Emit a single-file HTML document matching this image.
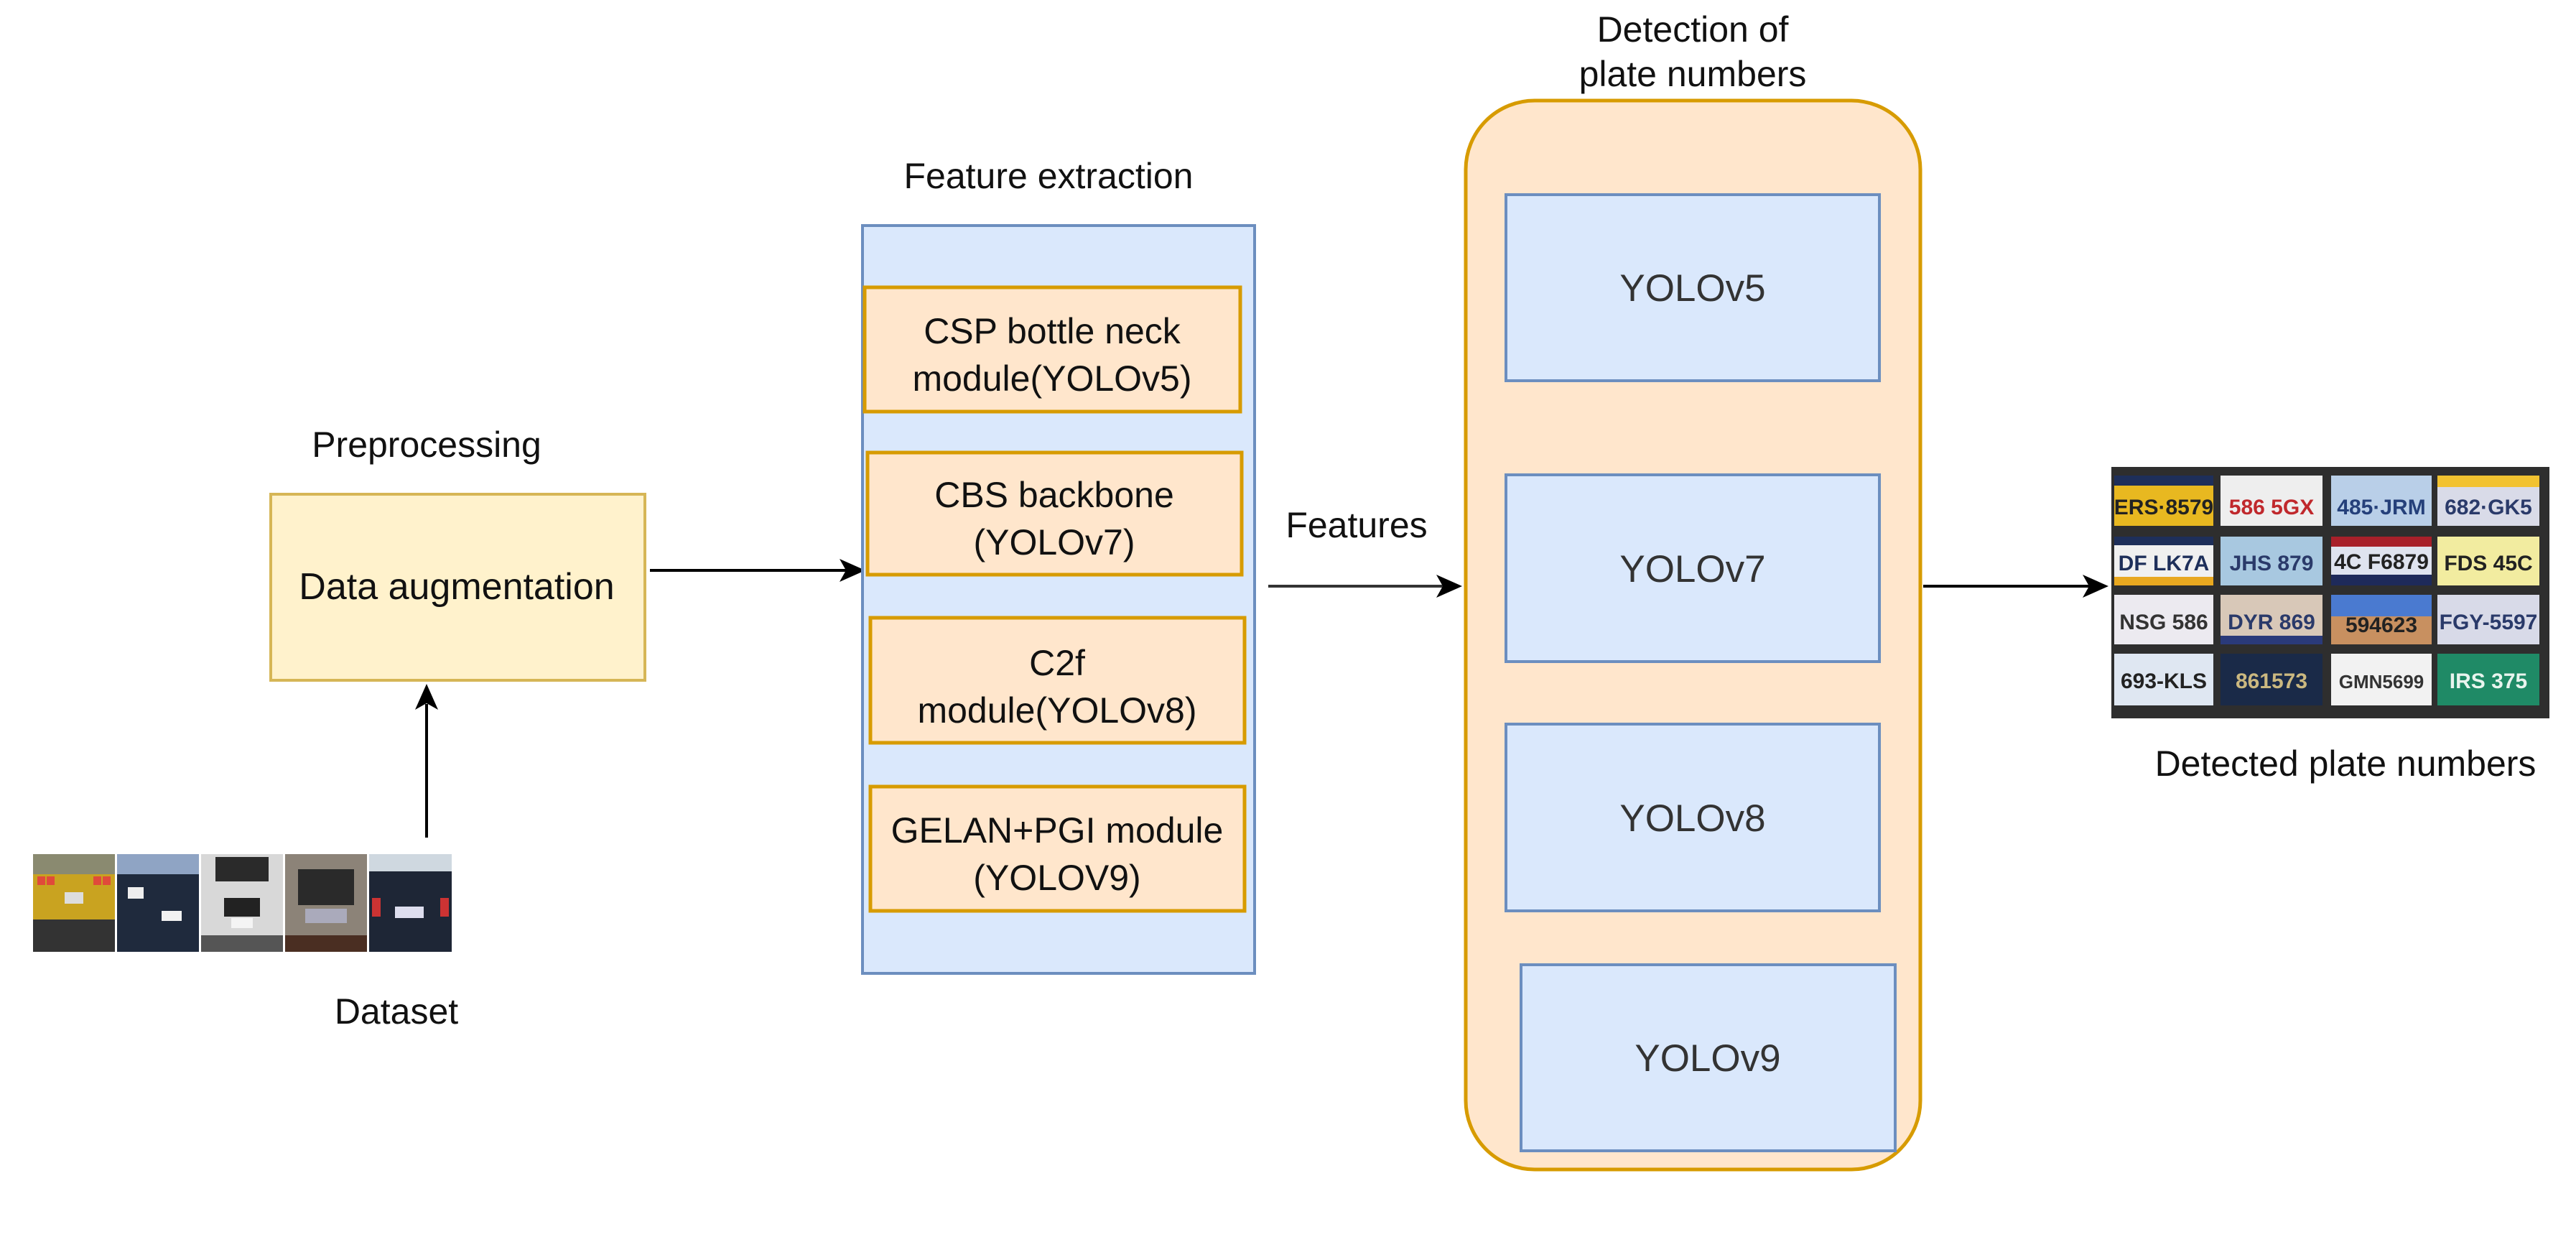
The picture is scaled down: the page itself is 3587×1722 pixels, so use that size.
<!DOCTYPE html>
<html><head><meta charset="utf-8"><style>
html,body{margin:0;padding:0;background:#fff;}
svg{display:block;}
text{font-family:"Liberation Sans",Arial,sans-serif;}
</style></head><body>
<svg width="3587" height="1722" viewBox="0 0 3587 1722" xmlns="http://www.w3.org/2000/svg">

<!-- Preprocessing -->
<text x="594" y="636" font-size="50" text-anchor="middle" fill="#111">Preprocessing</text>
<rect x="377" y="688" width="521" height="259" fill="#fff2cc" stroke="#d6b656" stroke-width="4"/>
<text x="636" y="834" font-size="52" text-anchor="middle" fill="#111">Data augmentation</text>

<!-- up arrow -->
<line x1="594" y1="1166" x2="594" y2="980" stroke="#000" stroke-width="4"/>
<polygon points="594,952 578,988 594,979 610,988" fill="#000"/>

<!-- cars -->
<g>
<rect x="46" y="1189" width="114" height="136" fill="#c9a320"/>
<rect x="46" y="1189" width="114" height="28" fill="#8a8a70"/>
<rect x="52" y="1220" width="11" height="12" fill="#e04a3a"/><rect x="65" y="1220" width="11" height="12" fill="#e04a3a"/>
<rect x="130" y="1220" width="11" height="12" fill="#e04a3a"/><rect x="143" y="1220" width="11" height="12" fill="#e04a3a"/>
<rect x="90" y="1242" width="26" height="16" fill="#ddd"/>
<rect x="46" y="1280" width="114" height="45" fill="#333"/>

<rect x="163" y="1189" width="114" height="136" fill="#1f2a3d"/>
<rect x="163" y="1189" width="114" height="28" fill="#8fa4c4"/>
<rect x="178" y="1235" width="22" height="16" fill="#eee"/>
<rect x="225" y="1268" width="28" height="14" fill="#f2f2f2"/>

<rect x="280" y="1189" width="114" height="136" fill="#d8d8d8"/>
<rect x="300" y="1193" width="74" height="34" fill="#2a2a2a"/>
<rect x="312" y="1250" width="50" height="26" fill="#222"/>
<rect x="322" y="1278" width="30" height="14" fill="#f4f4f4"/>
<rect x="280" y="1302" width="114" height="23" fill="#555"/>

<rect x="397" y="1189" width="114" height="136" fill="#8c8378"/>
<rect x="415" y="1210" width="78" height="50" fill="#2a2a2a"/>
<rect x="425" y="1265" width="58" height="20" fill="#aab"/>
<rect x="397" y="1302" width="114" height="23" fill="#4a2e22"/>

<rect x="514" y="1189" width="115" height="136" fill="#1e2636"/>
<rect x="514" y="1189" width="115" height="24" fill="#cfd8e0"/>
<rect x="518" y="1250" width="12" height="26" fill="#c33"/><rect x="613" y="1250" width="12" height="26" fill="#c33"/>
<rect x="550" y="1262" width="40" height="16" fill="#dde"/>
</g>
<text x="552" y="1425" font-size="50" text-anchor="middle" fill="#111">Dataset</text>

<!-- arrow data aug -> feature -->
<line x1="905" y1="794" x2="1180" y2="794" stroke="#000" stroke-width="4"/>
<polygon points="1205,794 1169,778 1178,794 1169,810" fill="#000"/>

<!-- Feature extraction -->
<text x="1460" y="262" font-size="50" text-anchor="middle" fill="#111">Feature extraction</text>
<rect x="1201" y="314" width="546" height="1041" fill="#dae8fc" stroke="#6c8ebf" stroke-width="4"/>
<g fill="#ffe6cc" stroke="#d79b00" stroke-width="5">
<rect x="1204" y="400" width="523" height="173"/>
<rect x="1208" y="630" width="521" height="170"/>
<rect x="1212" y="860" width="521" height="174"/>
<rect x="1212" y="1095" width="521" height="173"/>
</g>
<g font-size="50" text-anchor="middle" fill="#111">
<text x="1465" y="478">CSP bottle neck</text>
<text x="1465" y="544">module(YOLOv5)</text>
<text x="1468" y="706">CBS backbone</text>
<text x="1468" y="772">(YOLOv7)</text>
<text x="1472" y="940">C2f</text>
<text x="1472" y="1006">module(YOLOv8)</text>
<text x="1472" y="1173">GELAN+PGI module</text>
<text x="1472" y="1239">(YOLOV9)</text>
</g>

<!-- Features arrow -->
<text x="1889" y="748" font-size="50" text-anchor="middle" fill="#111">Features</text>
<line x1="1766" y1="816" x2="2010" y2="816" stroke="#333" stroke-width="4"/>
<polygon points="2036,816 2000,800 2009,816 2000,832" fill="#000"/>

<!-- Detection -->
<text x="2357" y="58" font-size="50" text-anchor="middle" fill="#111">Detection of</text>
<text x="2357" y="120" font-size="50" text-anchor="middle" fill="#111">plate numbers</text>
<rect x="2041" y="140" width="633" height="1488" rx="96" ry="96" fill="#ffe6cc" stroke="#d79b00" stroke-width="5"/>
<g fill="#dae8fc" stroke="#6c8ebf" stroke-width="4">
<rect x="2097" y="271" width="520" height="259"/>
<rect x="2097" y="661" width="520" height="260"/>
<rect x="2097" y="1008" width="520" height="260"/>
<rect x="2118" y="1343" width="521" height="259"/>
</g>
<g font-size="53" text-anchor="middle" fill="#333">
<text x="2357" y="419">YOLOv5</text>
<text x="2357" y="810">YOLOv7</text>
<text x="2357" y="1157">YOLOv8</text>
<text x="2378" y="1491">YOLOv9</text>
</g>

<!-- output arrow -->
<line x1="2678" y1="816" x2="2910" y2="816" stroke="#000" stroke-width="4"/>
<polygon points="2936,816 2900,800 2909,816 2900,832" fill="#000"/>

<!-- plates -->
<rect x="2940" y="650" width="610" height="350" fill="#2e2e2e"/>
<g font-weight="bold" font-size="30" text-anchor="middle">
<rect x="2944" y="662" width="138" height="70" fill="#e8b820"/><rect x="2944" y="662" width="138" height="14" fill="#1e2f5a"/><text x="3013" y="716" fill="#222">ERS·8579</text>
<rect x="3092" y="662" width="142" height="70" fill="#eee"/><text x="3163" y="716" fill="#c0282c">586 5GX</text>
<rect x="3246" y="662" width="140" height="70" fill="#b9cfe8"/><text x="3316" y="716" fill="#25407a">485·JRM</text>
<rect x="3394" y="662" width="142" height="70" fill="#d9dbe8"/><rect x="3394" y="662" width="142" height="16" fill="#f2c230"/><text x="3465" y="716" fill="#2a3a6a">682·GK5</text>

<rect x="2944" y="747" width="138" height="68" fill="#f0f0f0"/><rect x="2944" y="747" width="138" height="12" fill="#1e2f5a"/><rect x="2944" y="803" width="138" height="12" fill="#e8a820"/><text x="3013" y="794" fill="#1e2f5a">DF LK7A</text>
<rect x="3092" y="747" width="142" height="68" fill="#a8c8e0"/><text x="3163" y="794" fill="#2a3a6a">JHS 879</text>
<rect x="3246" y="747" width="140" height="68" fill="#dfe3ef"/><rect x="3246" y="747" width="140" height="14" fill="#a8202a"/><rect x="3246" y="800" width="140" height="15" fill="#1e2a5a"/><text x="3316" y="792" fill="#222">4C F6879</text>
<rect x="3394" y="747" width="142" height="68" fill="#f2eca0"/><text x="3465" y="794" fill="#222">FDS 45C</text>

<rect x="2944" y="828" width="138" height="69" fill="#eceaf0"/><text x="3013" y="876" fill="#333">NSG 586</text>
<rect x="3092" y="828" width="142" height="69" fill="#d8c8b8"/><rect x="3092" y="885" width="142" height="12" fill="#2a3a7a"/><text x="3163" y="876" fill="#2a3a6a">DYR 869</text>
<rect x="3246" y="828" width="140" height="69" fill="#c89060"/><rect x="3246" y="828" width="140" height="30" fill="#4a7ad0"/><text x="3316" y="880" fill="#222">594623</text>
<rect x="3394" y="828" width="142" height="69" fill="#d8dae8"/><text x="3465" y="876" fill="#2a3a6a">FGY-5597</text>

<rect x="2944" y="910" width="138" height="72" fill="#dfe7f2"/><text x="3013" y="958" fill="#222">693-KLS</text>
<rect x="3092" y="910" width="142" height="72" fill="#1a2a48"/><text x="3163" y="958" fill="#cbb880">861573</text>
<rect x="3246" y="910" width="140" height="72" fill="#f2f2f2"/><text x="3316" y="958" fill="#333" font-size="26">GMN5699</text>
<rect x="3394" y="910" width="142" height="72" fill="#1f8a66"/><text x="3465" y="958" fill="#e8f4ee">IRS 375</text>
</g>
<text x="3266" y="1080" font-size="50" text-anchor="middle" fill="#111">Detected plate numbers</text>
</svg>
</body></html>
